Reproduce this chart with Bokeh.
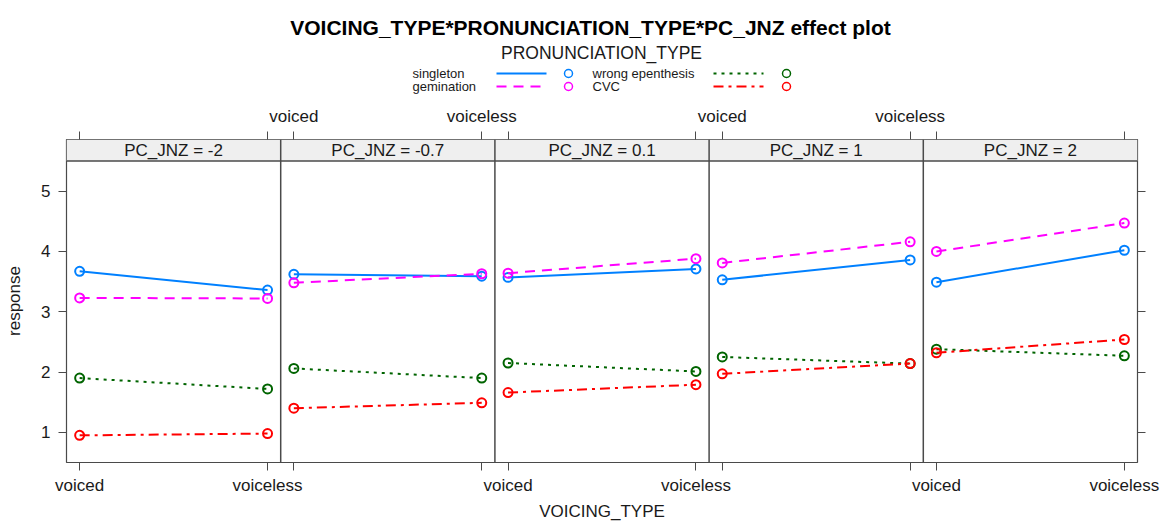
from bokeh.plotting import figure
from bokeh.models import Range1d, FixedTicker, LinearAxis, BoxAnnotation, Span
from bokeh.layouts import column
from bokeh.embed import file_html
from bokeh.resources import INLINE
from bokeh.core.properties import value

# ---------------- data ----------------
title_text = "VOICING_TYPE*PRONUNCIATION_TYPE*PC_JNZ effect plot"
legend_title = "PRONUNCIATION_TYPE"
pc_levels = ["-2", "-0.7", "0.1", "1", "2"]
voicing_types = ["voiced", "voiceless"]
series_names = ["singleton", "gemination", "wrong epenthesis", "CVC"]

singleton_voiced = [3.67, 3.62, 3.57, 3.53, 3.49]
singleton_voiceless = [3.36, 3.59, 3.71, 3.86, 4.02]
gemination_voiced = [3.23, 3.48, 3.64, 3.81, 4.00]
gemination_voiceless = [3.22, 3.63, 3.88, 4.16, 4.47]
wrong_voiced = [1.90, 2.06, 2.15, 2.25, 2.38]
wrong_voiceless = [1.72, 1.90, 2.01, 2.14, 2.27]
cvc_voiced = [0.95, 1.40, 1.66, 1.97, 2.32]
cvc_voiceless = [0.98, 1.49, 1.79, 2.14, 2.54]

y_ticks = [1, 2, 3, 4, 5]

# ---------------- style ----------------
FONT = "Liberation Sans"
TXT = "#1a1a1a"
series_voiced = [singleton_voiced, gemination_voiced, wrong_voiced, cvc_voiced]
series_voiceless = [singleton_voiceless, gemination_voiceless, wrong_voiceless, cvc_voiceless]
series_colors = ["#0080ff", "#ff00ff", "#006400", "#ff0000"]
series_dash = ["solid", "10 7", "3 5", "10 5 3 5"]
AX_COL = "#4a4a4a"

x_lo, x_hi = 0.93, 2.07          # x range of one panel (categories at 1, 2)
w = x_hi - x_lo
y_lo, y_hi = 0.5, 5.5
strip_h = (y_hi - y_lo) * 21.5 / 301.5
y_top = y_hi + strip_h
x_pos = list(range(1, len(voicing_types) + 1))
n = len(pc_levels)

BORDER_L, BORDER_R, FRAME_W = 66, 26, 1071


def style_axis(ax, ticks, overrides=None):
    ax.ticker = FixedTicker(ticks=ticks)
    if overrides is not None:
        ax.major_label_overrides = overrides
    ax.major_tick_out = 8
    ax.major_tick_in = 0
    ax.minor_tick_out = 0
    ax.minor_tick_in = 0
    ax.axis_line_color = None
    ax.major_tick_line_color = AX_COL
    ax.major_tick_line_width = 1
    ax.major_label_text_font = FONT
    ax.major_label_text_font_size = "17px"
    ax.major_label_text_color = TXT
    ax.major_label_standoff = 6
    ax.axis_label_text_font = FONT
    ax.axis_label_text_font_size = "17px"
    ax.axis_label_text_font_style = "normal"
    ax.axis_label_text_color = TXT


# ---------------- panels (one frame, five sub-coordinate systems) ----------------
p = figure(frame_width=FRAME_W, frame_height=323,
           x_range=Range1d(0, n * w), y_range=Range1d(y_lo, y_top),
           output_backend="svg", toolbar_location=None,
           x_axis_location="below", y_axis_location="left",
           min_border=0, min_border_top=39, min_border_bottom=58,
           min_border_left=BORDER_L, min_border_right=BORDER_R)
p.xgrid.visible = False
p.ygrid.visible = False
p.outline_line_color = AX_COL
p.outline_line_width = 1.2
p.background_fill_color = "white"
p.border_fill_color = "white"

# tick positions of each panel's categories in the shared frame
tick_pos = [round(i * w + (c - x_lo), 6) for i in range(n) for c in x_pos]
bottom_over = {}
top_over = {}
for i in range(n):
    for c, lab in zip(x_pos, voicing_types):
        t = round(i * w + (c - x_lo), 6)
        bottom_over[t] = lab if i % 2 == 0 else ""
        top_over[t] = lab if i % 2 == 1 else ""

style_axis(p.xaxis[0], tick_pos, bottom_over)
p.xaxis[0].major_label_standoff = 5
p.xaxis[0].axis_label = "VOICING_TYPE"
p.xaxis[0].axis_label_standoff = 4

top_ax = LinearAxis()
style_axis(top_ax, tick_pos, top_over)
p.add_layout(top_ax, "above")

style_axis(p.yaxis[0], y_ticks)
p.yaxis[0].axis_label = "response"
p.yaxis[0].axis_label_standoff = 14
p.yaxis[0].major_label_standoff = 8

right_ax = LinearAxis()
style_axis(right_ax, y_ticks)
right_ax.major_label_text_color = None
p.add_layout(right_ax, "right")

# strips
p.add_layout(BoxAnnotation(bottom=y_hi, fill_color="#efefef", fill_alpha=1.0,
                           line_color=None, level="underlay"))
p.add_layout(Span(location=y_hi, dimension="width", line_color=AX_COL, line_width=1.5))
for i in range(1, n):
    p.add_layout(Span(location=i * w, dimension="height", line_color=AX_COL, line_width=1.5))

for i, lvl in enumerate(pc_levels):
    sub = p.subplot(x_source=Range1d(x_lo, x_hi), x_target=Range1d(i * w, (i + 1) * w),
                    y_source=Range1d(y_lo, y_top), y_target=Range1d(y_lo, y_top))
    sub.text(x=[(x_lo + x_hi) / 2], y=[y_hi + strip_h / 2], text=[f"PC_JNZ = {lvl}"],
             text_font=value(FONT), text_font_size="17px", text_align="center",
             text_baseline="middle", text_color=TXT)
    for sv, svl, col, dash in zip(series_voiced, series_voiceless, series_colors, series_dash):
        ys = [sv[i], svl[i]]
        sub.line(x=x_pos, y=ys, line_color=col, line_width=2, line_dash=dash)
        sub.scatter(x=x_pos, y=ys, marker="circle", size=9, fill_color=None,
                    line_color=col, line_width=2)

# ---------------- header (title + legend), page-pixel coordinates ----------------
h = figure(frame_width=FRAME_W, height=100,
           x_range=Range1d(BORDER_L, BORDER_L + FRAME_W), y_range=Range1d(100, 0),
           output_backend="svg", toolbar_location=None,
           x_axis_location=None, y_axis_location=None, min_border=0,
           min_border_left=BORDER_L, min_border_right=BORDER_R)
h.xgrid.visible = False
h.ygrid.visible = False
h.outline_line_color = None
h.text(x=[590], y=[27], text=[title_text], text_font=value(FONT), text_font_size="21px",
       text_font_style="bold", text_align="center", text_baseline="middle", text_color="black")
h.text(x=[601], y=[52], text=[legend_title], text_font=value(FONT), text_font_size="17.5px",
       text_align="center", text_baseline="middle", text_color=TXT)

col_text_x = [412, 592]
col_line_x = [(496, 546), (713, 763)]
col_pt_x = [568, 786]
row_y = [73, 86]
for k, (name, col, dash) in enumerate(zip(series_names, series_colors, series_dash)):
    c, r = k // 2, k % 2
    h.text(x=[col_text_x[c]], y=[row_y[r]], text=[name], text_font=value(FONT),
           text_font_size="13px", text_align="left", text_baseline="middle", text_color=TXT)
    h.segment(x0=[col_line_x[c][0]], x1=[col_line_x[c][1]], y0=[row_y[r]], y1=[row_y[r]],
              line_color=col, line_width=2, line_dash=dash)
    h.scatter(x=[col_pt_x[c]], y=[row_y[r]], marker="circle", size=8, fill_color=None,
              line_color=col, line_width=1.5)

layout = column(h, p, spacing=0)
open("out.html", "w").write(file_html(layout, INLINE))
